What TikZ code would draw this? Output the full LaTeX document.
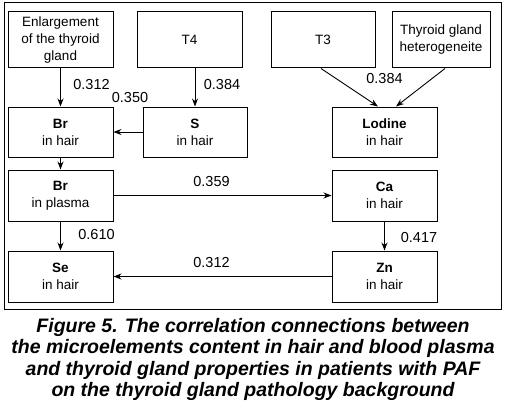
\documentclass[tikz,border=0pt]{standalone}
\usepackage{fontspec}
\setmainfont{Liberation Sans}
\newfontfamily\capfont{Liberation Sans}
\usetikzlibrary{arrows.meta}
\begin{document}
\begin{tikzpicture}[x=1pt,y=-1pt,
  box/.style={draw,line width=1pt,inner sep=0pt,align=center,
    font=\fontsize{13.5}{17}\selectfont,text=black},
  arr/.style={line width=0.9pt,-{Stealth[length=8pt,width=6pt]}},
  lab/.style={font=\fontsize{14.5}{16}\selectfont,inner sep=0pt}]
\useasboundingbox (0,0) rectangle (506,404);
\node[draw,line width=1pt,minimum width=497pt,minimum height=306pt,inner sep=0pt] (frame) at (252.5,156) {};
% top row
\node[box,minimum width=105pt,minimum height=56pt] (enl) at (60.5,40) {Enlargement\\of the thyroid\\gland};
\node[box,minimum width=105pt,minimum height=56pt] (t4) at (189.5,40) {T4};
\node[box,minimum width=104pt,minimum height=56pt] (t3) at (323,40) {T3};
\node[box,minimum width=98pt,minimum height=56pt] (thy) at (441,40) {Thyroid gland\\heterogeneite};
% second row
\node[box,minimum width=105pt,minimum height=50pt] (brh) at (60.5,132) {\textbf{Br}\\in hair};
\node[box,minimum width=104pt,minimum height=50pt] (s) at (195,132) {\textbf{S}\\in hair};
\node[box,minimum width=105pt,minimum height=50pt] (lod) at (384.5,132) {\textbf{Lodine}\\in hair};
% third row
\node[box,minimum width=105pt,minimum height=51pt] (brp) at (60.5,195.5) {\textbf{Br}\\in plasma};
\node[box,minimum width=105pt,minimum height=51pt] (ca) at (384.5,195.5) {\textbf{Ca}\\in hair};
% fourth row
\node[box,minimum width=105pt,minimum height=51pt] (se) at (60.5,276.5) {\textbf{Se}\\in hair};
\node[box,minimum width=105pt,minimum height=51pt] (zn) at (384.5,276.5) {\textbf{Zn}\\in hair};
% arrows
\draw[arr] (enl) -- (brh);
\draw[arr] (s.north |- t4.south) -- (s.north);
\draw[arr] (s) -- (brh);
\draw[arr] ([xshift=-2pt]t3.south) -- ([xshift=-6.5pt]lod.north);
\draw[arr] ([xshift=4pt]thy.south) -- ([xshift=11.5pt]lod.north);
\draw[arr] (brh) -- (brp);
\draw[arr] (brp) -- (ca);
\draw[arr] (brp) -- (se);
\draw[arr] (ca) -- (zn);
\draw[arr] (zn) -- (se);
% labels
\node[lab] (l1) at (91.5,85) {0.312};
\node[lab] (l2) at (130,98) {0.350};
\node[lab] (l3) at (222,85) {0.384};
\node[lab] (l4) at (384.5,79) {0.384};
\node[lab] (l5) at (211.5,182) {0.359};
\node[lab] (l6) at (96.5,235) {0.610};
\node[lab] (l7) at (211.5,263) {0.312};
\node[lab] (l8) at (419,238) {0.417};
% caption
\node[font=\capfont\bfseries\itshape\fontsize{19.5}{21.5}\selectfont,align=center,inner sep=0pt,text=black] (cap) at (253,359.5)
{Figure 5. The correlation connections between\\the microelements content in hair and blood plasma\\and thyroid gland properties in patients with PAF\\on the thyroid gland pathology background};
\end{tikzpicture}
\end{document}
